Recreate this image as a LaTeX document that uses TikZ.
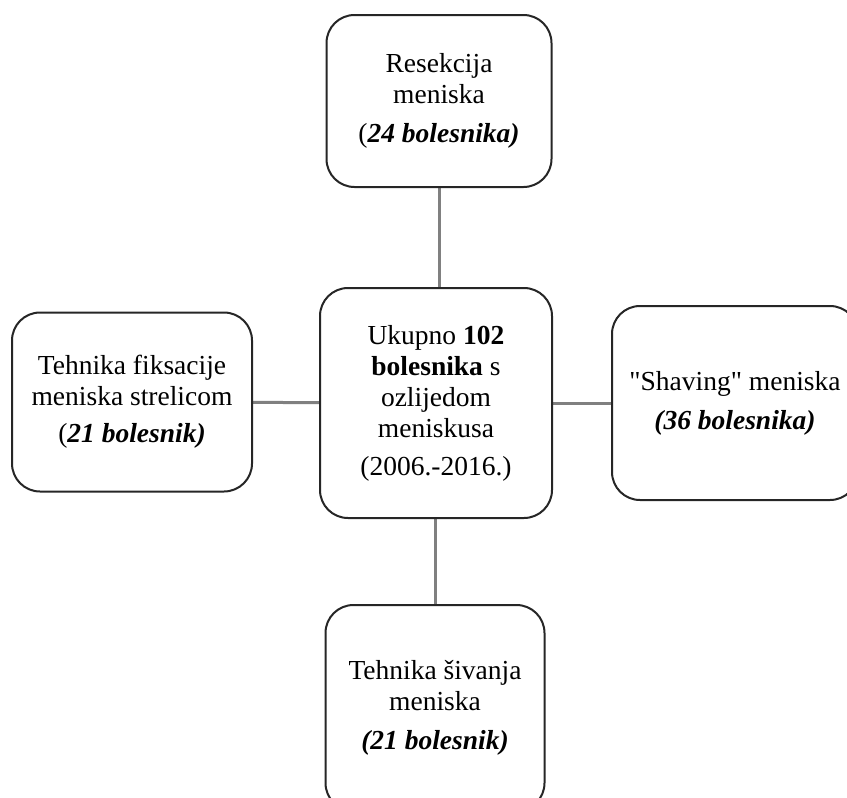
\documentclass[tikz,border=0pt]{standalone}
\usepackage{fontspec}
\setmainfont{Liberation Serif}[Ligatures=TeXOff]
\usetikzlibrary{backgrounds}
\tikzset{
  box/.style={draw=black!85, line width=2pt, rounded corners=28pt, fill=white,
    align=center, inner sep=0pt, font=\fontsize{27.5}{31}\selectfont},
  link/.style={draw=black!50, line width=3pt}
}
\begin{document}
\begin{tikzpicture}[x=1pt,y=-1pt]
        % page frame
        \useasboundingbox (0,0) rectangle (847,798);
        \clip (0,0) rectangle (847,798);
        % the boxes
        \node[box, minimum width=232pt, minimum height=230pt] (total) at (436,403)
          {Ukupno \textbf{102}\\ \textbf{bolesnika} s\\ ozlijedom\\ meniskusa\\[7pt] (2006.-2016.)};
        \node[box, minimum width=225pt, minimum height=172pt] (resekcija) at (439,101)
          {Resekcija\\ meniska\\[8pt] (\textbf{\textit{24 bolesnika)}}};
        \node[box, minimum width=240pt, minimum height=179pt] (fiksacija) at (132,402)
          {Tehnika fiksacije\\ meniska strelicom\\[6pt] (\textbf{\textit{21 bolesnik)}}};
        \node[box, minimum width=246pt, minimum height=194pt] (shaving) at (735,403)
          {"Shaving" meniska\\[8pt] \textbf{\textit{(36 bolesnika)}}};
        \node[box, minimum width=219pt, minimum height=206pt] (sivanje) at (435,708)
          {Tehnika šivanja\\ meniska\\[8pt] \textbf{\textit{(21 bolesnik)}}};
        % the connectors, behind the boxes
        \begin{scope}[on background layer]
          \draw[link] (resekcija.south) -- (resekcija.south |- total.north);
          \draw[link] (sivanje.north) -- (sivanje.north |- total.south);
          \draw[link] (fiksacija) -- (total);
          \draw[link] (total) -- (shaving);
        \end{scope}
\end{tikzpicture}
\end{document}
